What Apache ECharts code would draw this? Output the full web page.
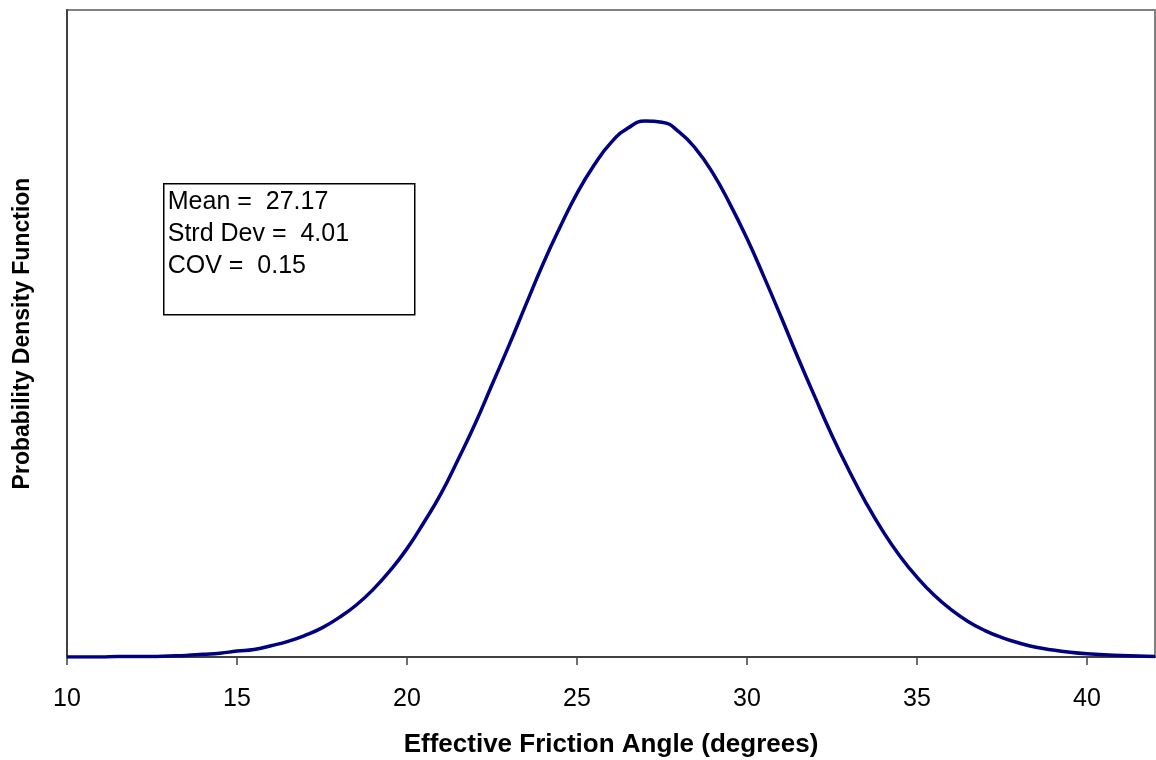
<!DOCTYPE html>
<html>
<head>
<meta charset="utf-8">
<script src="https://cdn.jsdelivr.net/npm/echarts@6/dist/echarts.min.js"></script>
<style>html,body{margin:0;padding:0;background:#fff}#c{width:1156px;height:760px}</style>
</head>
<body>
<div id="c"></div>
<script>
const angles = [10,10.5,11,11.5,12,12.5,13,13.5,14,14.5,15,15.5,16,16.5,17,17.5,18,18.5,19,19.5,20,20.5,21,21.5,22,22.5,23,23.5,24,24.5,25,25.5,26,26.5,27,27.5,28,28.5,29,29.5,30,30.5,31,31.5,32,32.5,33,33.5,34,34.5,35,35.5,36,36.5,37,37.5,38,38.5,39,39.5,40,40.5,41,41.5,42];
const pdfValues = [0.0000,0.0000,0.0000,0.0001,0.0001,0.0001,0.0002,0.0003,0.0005,0.0007,0.0011,0.0014,0.0021,0.0029,0.0040,0.0054,0.0073,0.0096,0.0125,0.0160,0.0201,0.0250,0.0303,0.0366,0.0432,0.0505,0.0578,0.0654,0.0729,0.0797,0.0860,0.0912,0.0954,0.0981,0.0994,0.0992,0.0974,0.0942,0.0897,0.0840,0.0776,0.0705,0.0631,0.0555,0.0482,0.0411,0.0346,0.0286,0.0233,0.0187,0.0148,0.0115,0.0088,0.0066,0.0049,0.0036,0.0026,0.0018,0.0013,0.0009,0.0006,0.0004,0.0003,0.0002,0.0001];
const xTickLabels = [10,15,20,25,30,35,40];
const statsLines = ['Mean =  27.17','Strd Dev =  4.01','COV =  0.15'];
const xTitle = 'Effective Friction Angle (degrees)';
const yTitle = 'Probability Density Function';

const chart = echarts.init(document.getElementById('c'), null, {renderer:'canvas'});
const font = 'Liberation Sans, Arial, sans-serif';
chart.setOption({
  animation:false,
  backgroundColor:'#fff',
  grid:{left:67,right:1,top:10,bottom:103,containLabel:false,outerBoundsMode:'none',show:true,borderColor:'#808080',borderWidth:2,backgroundColor:'#fff'},
  xAxis:{
    type:'value',min:10,max:42,interval:5,
    name:xTitle,nameLocation:'middle',nameGap:75,
    nameTextStyle:{fontFamily:font,fontWeight:'bold',fontSize:26,color:'#000'},
    axisLine:{lineStyle:{color:'#404040',width:2}},
    axisTick:{show:true,length:8,customValues:xTickLabels,lineStyle:{color:'#404040',width:1.5}},
    axisLabel:{customValues:xTickLabels,margin:30,fontFamily:font,fontSize:25,color:'#000'},
    splitLine:{show:false}
  },
  yAxis:{
    type:'value',min:0,max:0.12,
    name:yTitle,nameLocation:'middle',nameGap:33,nameRotate:90,
    nameTextStyle:{fontFamily:font,fontWeight:'bold',fontSize:23,color:'#000'},
    axisLine:{show:true,lineStyle:{color:'#404040',width:2}},
    axisTick:{show:false},axisLabel:{show:false},splitLine:{show:false}
  },
  series:[{
    type:'line',data:angles.map((a,i)=>[a,pdfValues[i]]),
    smooth:0.5,showSymbol:false,
    lineStyle:{color:'#000080',width:3.5}
  }],
  graphic:[{
    type:'group',left:163,top:183,
    children:[
      {type:'rect',shape:{x:0,y:0,width:251,height:131},style:{fill:'#fff',stroke:'#000',lineWidth:1.5}},
      {type:'text',x:4,y:2,style:{text:statsLines.join('\n'),font:'25px '+font,fill:'#000',lineHeight:32}}
    ]
  }]
});
</script>
</body>
</html>
